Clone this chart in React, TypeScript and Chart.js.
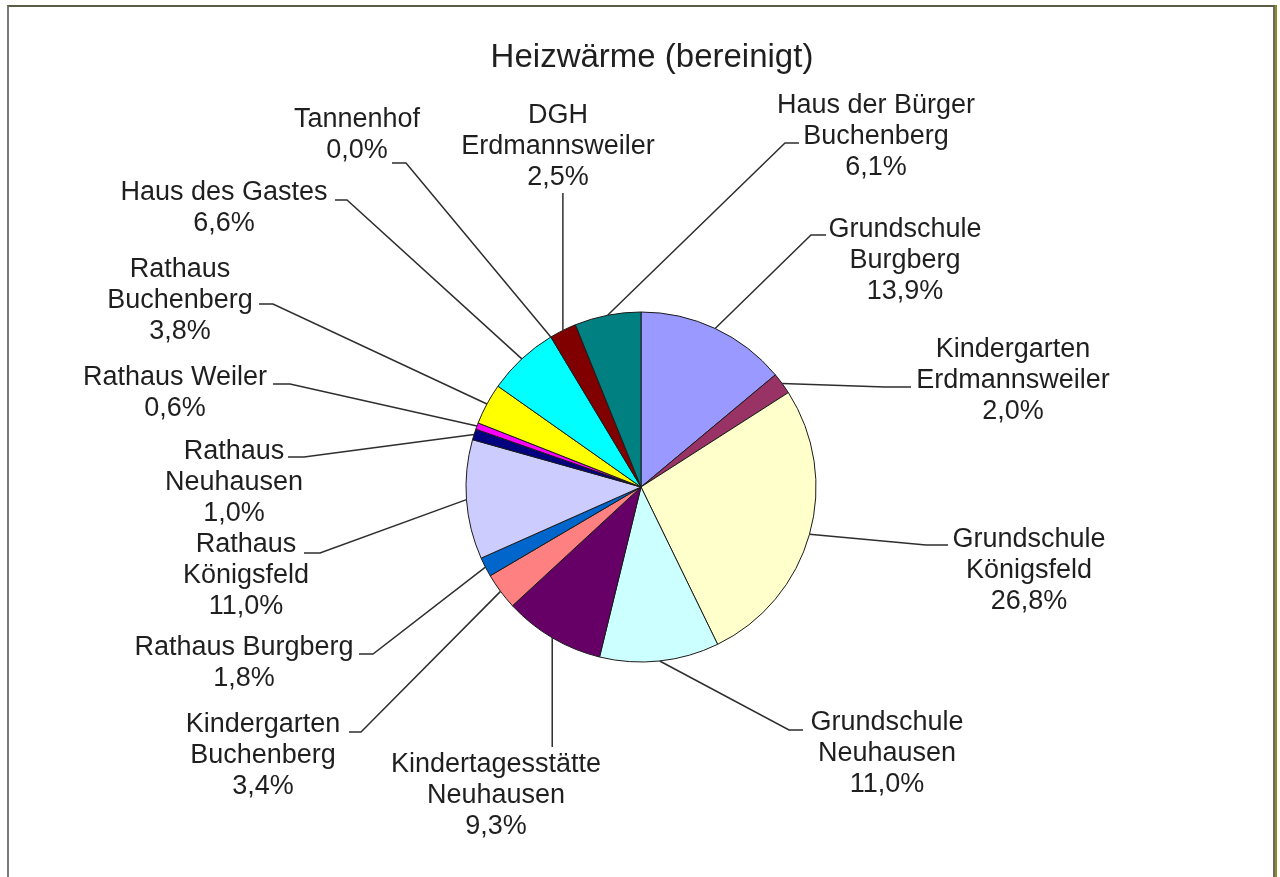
import React, { useEffect, useRef } from "react";
import { Chart, registerables } from "chart.js";

Chart.register(...registerables);

// ---------- data ----------
const chartTitle = "Heizwärme (bereinigt)";

const categories = [
  "Grundschule Burgberg",
  "Kindergarten Erdmannsweiler",
  "Grundschule Königsfeld",
  "Grundschule Neuhausen",
  "Kindertagesstätte Neuhausen",
  "Kindergarten Buchenberg",
  "Rathaus Burgberg",
  "Rathaus Königsfeld",
  "Rathaus Neuhausen",
  "Rathaus Weiler",
  "Rathaus Buchenberg",
  "Haus des Gastes",
  "Tannenhof",
  "DGH Erdmannsweiler",
  "Haus der Bürger Buchenberg",
];

const labelLines = [
  ["Grundschule", "Burgberg"],
  ["Kindergarten", "Erdmannsweiler"],
  ["Grundschule", "Königsfeld"],
  ["Grundschule", "Neuhausen"],
  ["Kindertagesstätte", "Neuhausen"],
  ["Kindergarten", "Buchenberg"],
  ["Rathaus Burgberg"],
  ["Rathaus", "Königsfeld"],
  ["Rathaus", "Neuhausen"],
  ["Rathaus Weiler"],
  ["Rathaus", "Buchenberg"],
  ["Haus des Gastes"],
  ["Tannenhof"],
  ["DGH", "Erdmannsweiler"],
  ["Haus der Bürger", "Buchenberg"],
];

const shares = [13.9, 2.0, 26.8, 11.0, 9.3, 3.4, 1.8, 11.0, 1.0, 0.6, 3.8, 6.6, 0.0, 2.5, 6.1];

const sliceColors = [
  "#9999FF", "#993366", "#FFFFCC", "#CCFFFF", "#660066",
  "#FF8080", "#0066CC", "#CCCCFF", "#000080", "#FF00FF",
  "#FFFF00", "#00FFFF", "#800080", "#800000", "#008080",
];

// ---------- layout / style (relative to pie centre) ----------
// tx,ty: text block centre x / first baseline; ax,ay: leader start near text; d: horizontal dash (0 = vertical leader)
const LABEL_LAYOUT = [
  { tx: 264, ty: -250, ax: 185, ay: -252, d: -15 },
  { tx: 372, ty: -130, ax: 270, ay: -100, d: -26 },
  { tx: 388, ty: 60, ax: 307, ay: 58, d: -22 },
  { tx: 246, ty: 243, ax: 162, ay: 243, d: -14 },
  { tx: -145, ty: 285, ax: -87, ay: 260, d: 0 },
  { tx: -378, ty: 245, ax: -292, ay: 245, d: 12 },
  { tx: -397, ty: 168, ax: -282, ay: 167, d: 14 },
  { tx: -395, ty: 65, ax: -337, ay: 66, d: 16 },
  { tx: -407, ty: -28, ax: -353, ay: -30, d: 16 },
  { tx: -466, ty: -102, ax: -368, ay: -103, d: 17 },
  { tx: -461, ty: -210, ax: -382, ay: -183, d: 14 },
  { tx: -417, ty: -287, ax: -306, ay: -287, d: 12 },
  { tx: -284, ty: -360, ax: -249, ay: -324, d: 14 },
  { tx: -83, ty: -364, ax: -79, ay: -294, d: 0 },
  { tx: 235, ty: -374, ax: 158, ay: -344, d: -14 },
];

const FONT = '"Liberation Sans", Arial, sans-serif';
const TEXT_COLOR = "#1f1f1f";
const LINE_COLOR = "#2e2e2e";
const LINE_H = 31;
const TITLE_DX = 11;
const TITLE_BASELINE = 67;

const fmtPct = (v: number) => v.toFixed(1).replace(".", ",") + "%";

const labelPlugin = {
  id: "pieLabels",
  afterDatasetsDraw(chart: any) {
    const ctx: CanvasRenderingContext2D = chart.ctx;
    const meta = chart.getDatasetMeta(0);
    if (!meta.data.length) return;
    ctx.save();
    ctx.fillStyle = TEXT_COLOR;
    ctx.textAlign = "center";
    ctx.textBaseline = "alphabetic";
    const c0 = meta.data[0].getProps(["x", "y"], true);
    ctx.font = `33px ${FONT}`;
    ctx.fillText(chartTitle, c0.x + TITLE_DX, TITLE_BASELINE);

    meta.data.forEach((el: any, i: number) => {
      const { x, y, startAngle, endAngle, outerRadius } = el.getProps(
        ["x", "y", "startAngle", "endAngle", "outerRadius"],
        true
      );
      const mid = (startAngle + endAngle) / 2;
      const px = x + Math.cos(mid) * outerRadius;
      const py = y + Math.sin(mid) * outerRadius;
      const L = LABEL_LAYOUT[i];
      ctx.strokeStyle = LINE_COLOR;
      ctx.lineWidth = 1.5;
      ctx.beginPath();
      if (L.d === 0) {
        ctx.moveTo(px, y + L.ay);
        ctx.lineTo(px, py);
      } else {
        const ax = x + L.ax;
        const ay = y + L.ay;
        ctx.moveTo(ax, ay);
        ctx.lineTo(ax + L.d, ay);
        ctx.lineTo(px, py);
      }
      ctx.stroke();

      const lines = [...labelLines[i], fmtPct(shares[i])];
      ctx.font = `27px ${FONT}`;
      lines.forEach((t, k) => ctx.fillText(t, x + L.tx, y + L.ty + k * LINE_H));
    });
    ctx.restore();
  },
};

export default function App() {
  const canvasRef = useRef<HTMLCanvasElement | null>(null);

  useEffect(() => {
    if (!canvasRef.current) return;
    const chart = new Chart(canvasRef.current, {
      type: "pie",
      data: {
        labels: categories,
        datasets: [
          {
            data: shares,
            backgroundColor: sliceColors,
            borderColor: "#1a1a1a",
            borderWidth: 1,
          },
        ],
      },
      options: {
        responsive: false,
        animation: false,
        rotation: 0,
        radius: 175,
        layout: { padding: { left: 466, right: 464, top: 312, bottom: 215 } },
        plugins: {
          legend: { display: false },
          tooltip: { enabled: false },
          title: { display: false },
        },
      } as any,
      plugins: [labelPlugin],
    });
    return () => chart.destroy();
  }, []);

  return (
    <div
      style={{
        position: "absolute",
        left: 0,
        top: 0,
        width: 1280,
        height: 877,
        overflow: "hidden",
        background: "#ffffff",
      }}
    >
      <div
        style={{
          position: "absolute",
          left: 7,
          top: 5,
          width: 1264,
          height: 900,
          borderTop: "2px solid #5a5c46",
          borderLeft: "2px solid #7a7a7a",
          borderRight: "2px solid #6a6a6a",
          boxShadow: "2px 0 0 0 #8c8c22",
        }}
      />
      <canvas
        ref={canvasRef}
        width={1280}
        height={877}
        style={{ position: "absolute", left: 0, top: 0, width: 1280, height: 877 }}
      />
    </div>
  );
}
